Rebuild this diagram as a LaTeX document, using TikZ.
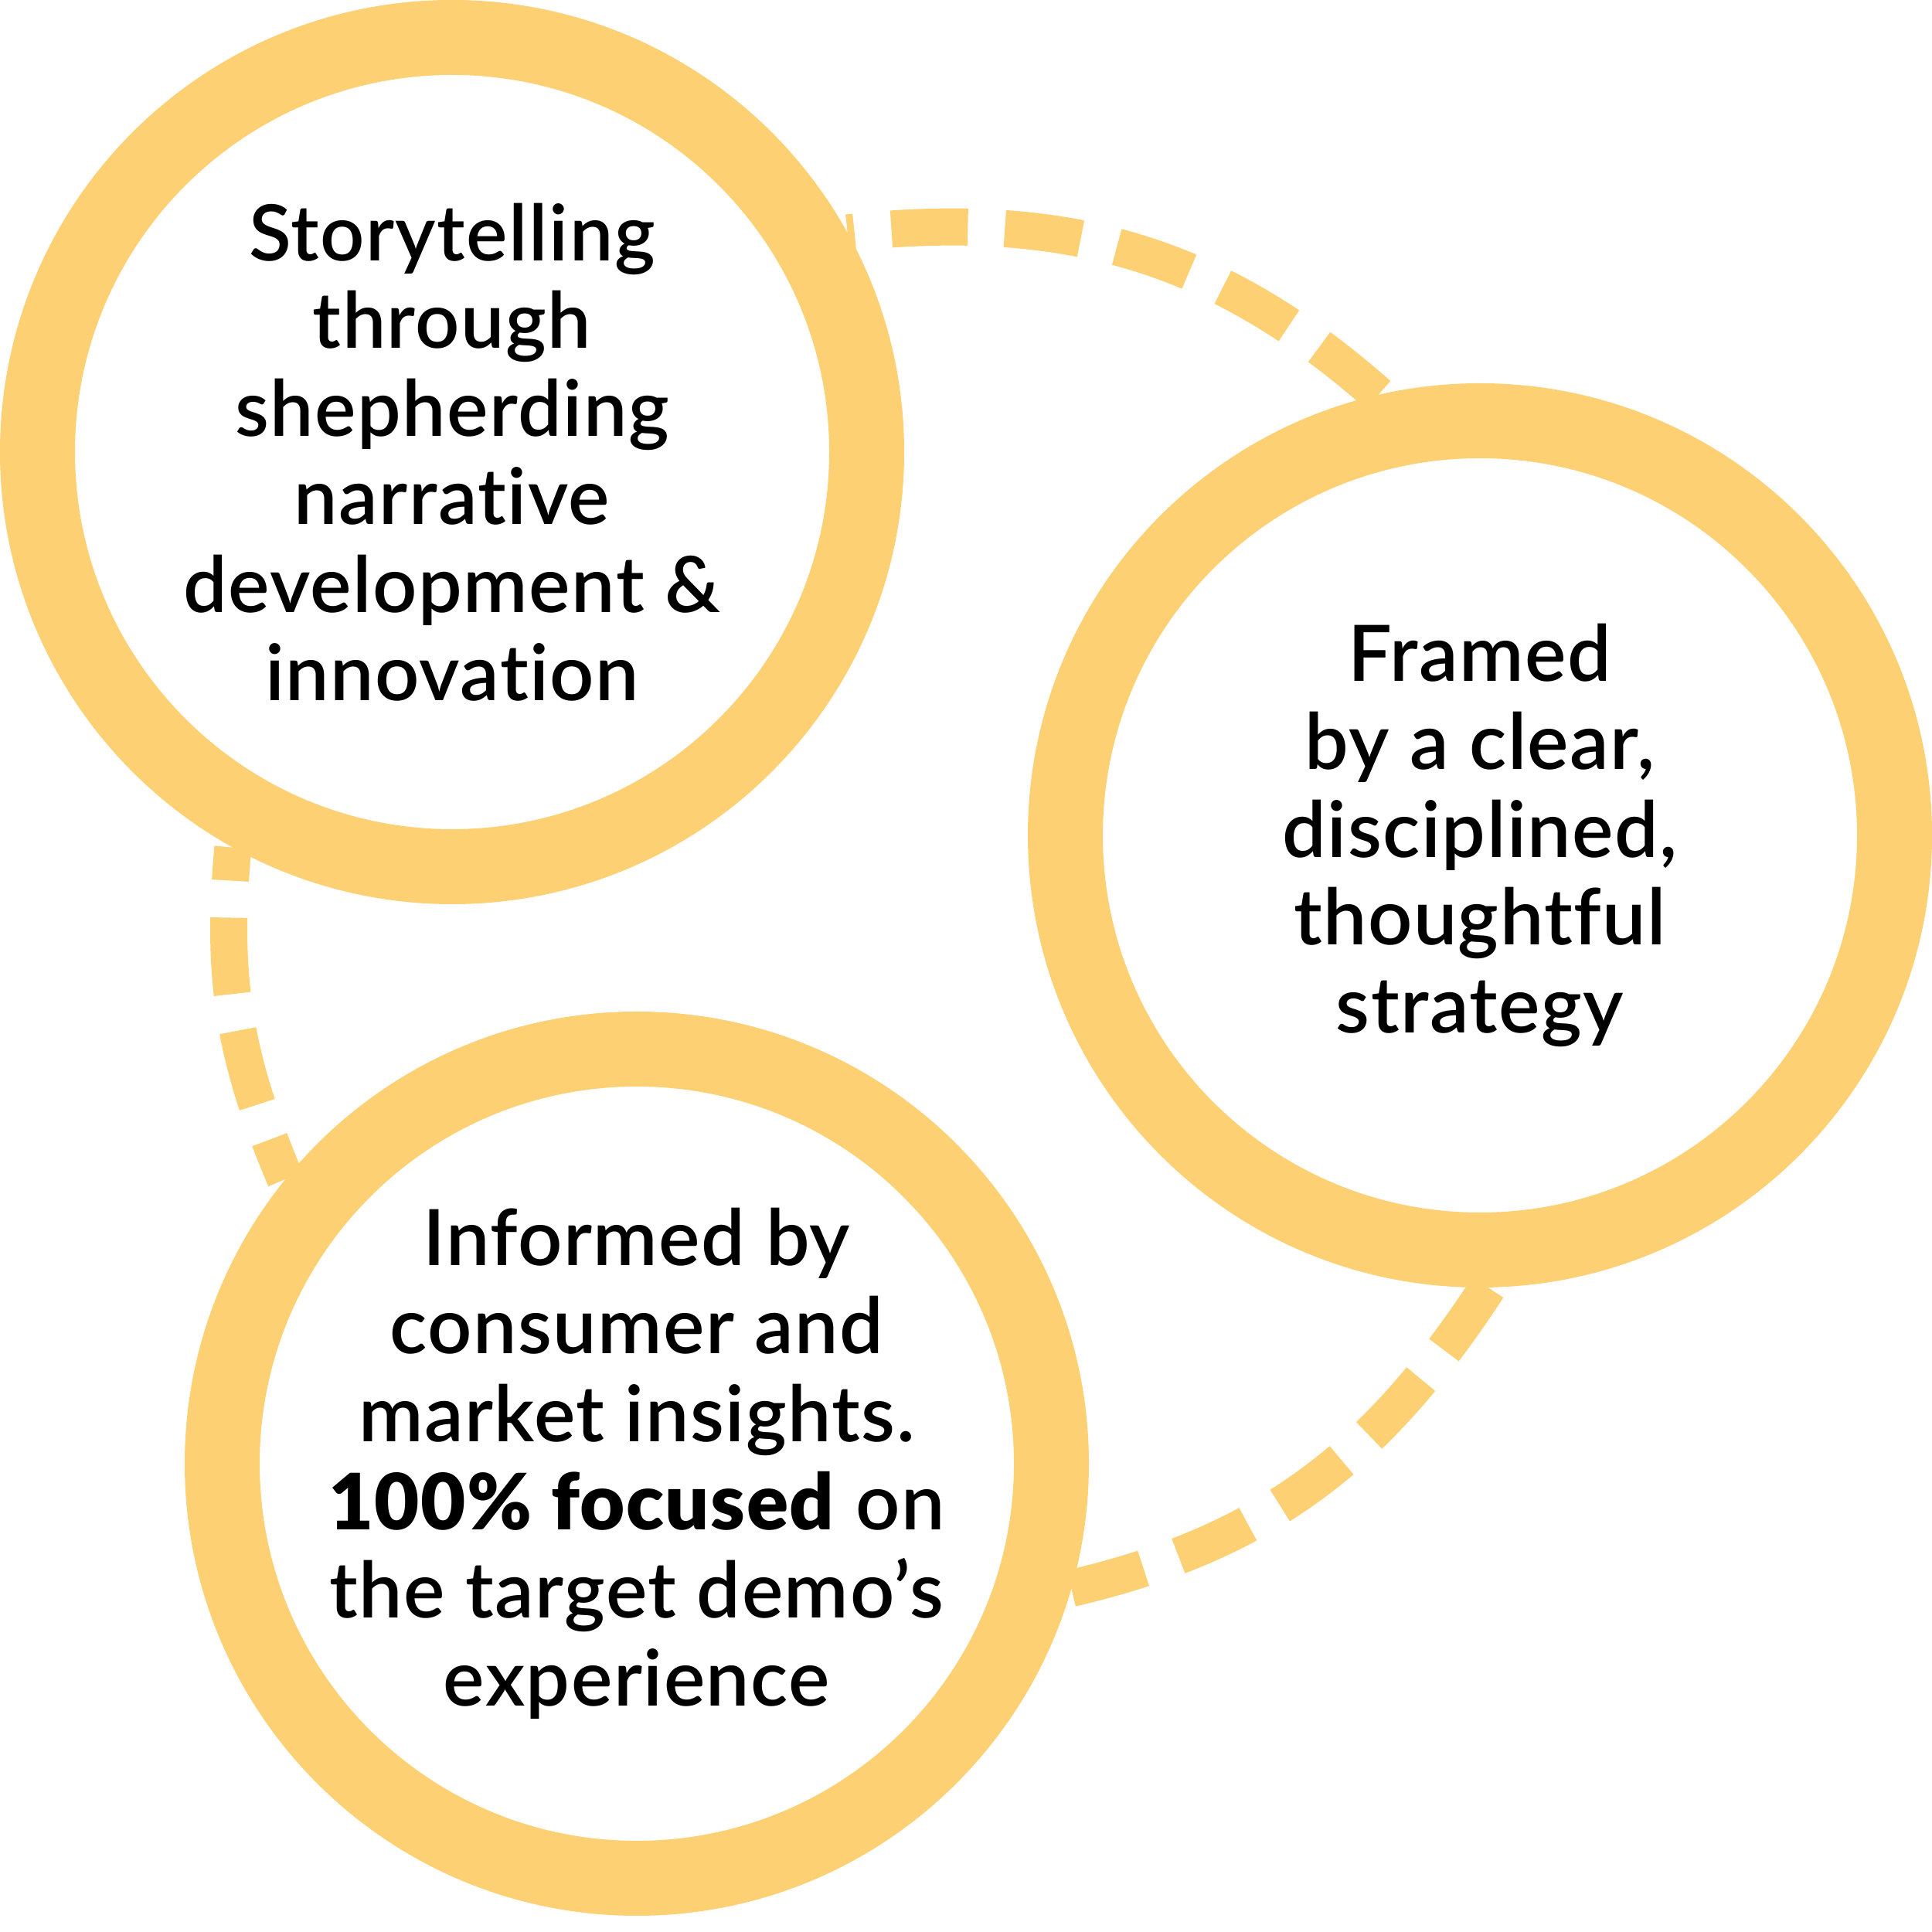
\documentclass[tikz,border=0pt]{standalone}
\usepackage{fontspec}
\setmainfont{Lato}[UprightFont={* Semibold},BoldFont={* Black},
  Ligatures=NoCommon,LetterSpace=1.5]
\usepackage{xcolor}
\definecolor{ringyellow}{HTML}{FED074}
\usepackage{tikz}
\usetikzlibrary{backgrounds}

\begin{document}
\begin{tikzpicture}[
    ring/.style={circle,draw=ringyellow,line width=0.97cm,fill=white,
      minimum size=10.73cm,align=center,
      font=\fontsize{28.6pt}{32.4pt}\selectfont},
    link/.style={ringyellow,line width=0.48cm,
      dash pattern=on 0.99cm off 0.48cm}]
  \useasboundingbox (0,0) rectangle (25,25);

  % the three circles
  \node[ring] (story) at (5.85,19.15)
    {Storytelling\\through\\shepherding\\narrative\\development \&\\innovation};
  \node[ring] (frame) at (19.15,14.19)
    {Framed\\by a clear,\\disciplined,\\thoughtful\\strategy};
  \node[ring] (insight) at (8.24,6.06)
    {Informed by\\consumer and\\market insights.\\\textbf{100\% focused} on\\the target demo’s\\experience};

  % dashed links, all on one big circle
  \begin{scope}[on background layer]
    \draw[link,dash phase=0.9cm] (story.29.7) to[out=6.1,in=138.6] (frame.103.7);
    \draw[link,dash phase=0cm] (frame.271.9) to[out=236.9,in=13.1] (insight.344.9);
    \draw[link,dash phase=0.56cm] (story.241.1) to[out=264.7,in=112.9] (insight.141.1);
  \end{scope}
\end{tikzpicture}
\end{document}
